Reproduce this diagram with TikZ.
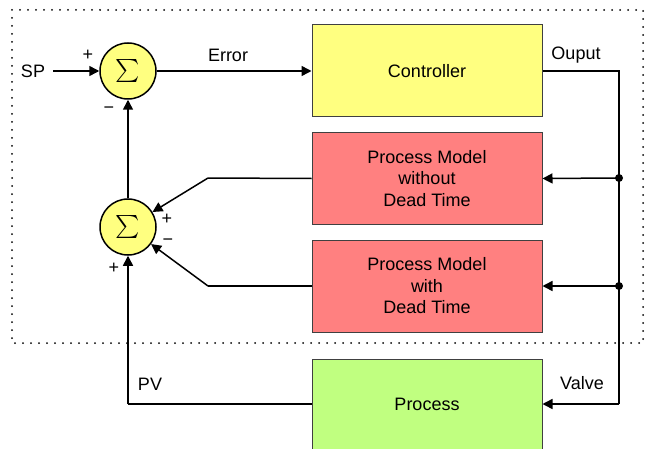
\documentclass[tikz,border=0pt]{standalone}
\usepackage{fontspec}
\usepackage{graphicx}
\setmainfont{Liberation Sans}
\usetikzlibrary{arrows.meta}
\definecolor{ctrlyellow}{HTML}{FFFF80}
\definecolor{modelred}{HTML}{FF8080}
\definecolor{procgreen}{HTML}{C0FF80}
\definecolor{boxedge}{HTML}{404040}
\tikzset{
  block/.style={draw=boxedge, line width=1pt, minimum width=230pt, align=center,
    font=\fontsize{18}{21.5}\selectfont},
  summer/.style={circle, draw=black, line width=1.5pt, fill=ctrlyellow,
    minimum size=56pt, inner sep=0pt},
  sig/.style={line width=1.5pt, draw=black},
  arr/.style={sig, -{Triangle[length=10pt,width=10pt]}},
  lbl/.style={font=\fontsize{18}{21.5}\selectfont, inner sep=0pt},
  sgn/.style={font=\fontsize{18}{18}\selectfont, inner sep=0pt},
  junction/.style={circle, fill=black, minimum size=8pt, inner sep=0pt},
}
\newcommand{\sumsign}{\scalebox{2.3}{$\sum$}}
\begin{document}
\begin{tikzpicture}[x=1pt, y=-1pt]
\useasboundingbox (0,0) rectangle (647,449);

% boundary of the controller with its models
\draw[line width=2pt, line cap=round, dash pattern=on 0pt off 8pt] (12,10) rectangle (643,343);

% summing junctions
\node[summer] (sum1) at (128,71) {\sumsign};
\node[summer] (sum2) at (128,227) {\sumsign};

% blocks
\node[block, fill=ctrlyellow, minimum height=92pt] (ctrl) at (427,71) {Controller};
\node[block, fill=modelred, minimum height=91pt] (mod1) at (427,178.5) {Process Model\\without\\Dead Time};
\node[block, fill=modelred, minimum height=92pt] (mod2) at (427,286) {Process Model\\with\\Dead Time};
\node[block, fill=procgreen, minimum height=90pt] (proc) at (427,404) {Process};

% input
\node[lbl] (sp) at (33,71) {SP};
\coordinate (spstart) at (53,71);
\draw[arr] (spstart) -- (sum1.west);

% error into controller
\draw[arr] (sum1.east) -- (ctrl.west);
\node[lbl] (err) at (228,55) {Error};

% controller output distribution
\coordinate (c1) at (619,71);
\node[junction] (j1) at (619,178) {};
\node[junction] (j2) at (619,286) {};
\coordinate (c4) at (619,404);
\draw[sig] (ctrl.east) -- (c1) -- (j1.center) -- (j2.center) -- (c4);
\draw[arr] (c4) -- (proc.east);
\draw[arr] (j1.center) -- (mod1.east);
\draw[arr] (j2.center) -- (mod2.east);
\node[lbl] (out) at (576,55) {Ouput};
\node[lbl] (valve) at (582,383) {Valve};

% model outputs into second summing junction
\coordinate (k1) at (208,178);
\coordinate (k2) at (208,286);
\draw[sig] (mod1.west) -- (k1);
\draw[arr] (k1) -- (sum2);
\draw[sig] (mod2.west) -- (k2);
\draw[arr] (k2) -- (sum2);

% process variable feedback
\coordinate (pvc) at (128,404);
\draw[sig] (proc.west) -- (pvc);
\draw[arr] (pvc) -- (sum2.south);
\node[lbl] (pv) at (150,384) {PV};

% corrected feedback to first summing junction
\draw[arr] (sum2.north) -- (sum1.south);

% signs
\node[sgn] (s1p) at (88,55) {+};
\node[sgn] (s1m) at (109,110) {−};
\node[sgn] (s2a) at (167,219) {+};
\node[sgn] (s2b) at (168,242) {−};
\node[sgn] (s2c) at (114,268) {+};
\end{tikzpicture}
\end{document}
